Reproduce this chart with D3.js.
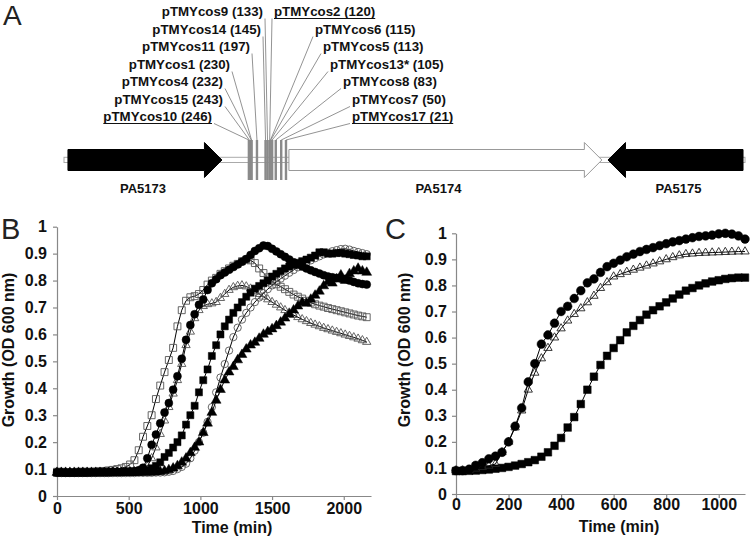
<!DOCTYPE html>
<html><head><meta charset="utf-8">
<script src="https://cdn.jsdelivr.net/npm/d3@7/dist/d3.min.js"></script>
<style>
html,body{margin:0;padding:0;background:#fff;}
svg{display:block;font-family:"Liberation Sans",Arial,Helvetica,sans-serif;}
</style></head><body>
<svg id="fig" width="750" height="537"></svg>
<script>
// ================= DATA =================
// Panel A: transposon insertions (distance upstream of PA5174, bp)
const leftNames = ["pTMYcos9","pTMYcos14","pTMYcos11","pTMYcos1","pTMYcos4","pTMYcos15","pTMYcos10"];
const leftPos = [133,145,197,230,232,243,246];
const leftUnderlined = [0,0,0,0,0,0,1];
const rightNames = ["pTMYcos2","pTMYcos6","pTMYcos5","pTMYcos13*","pTMYcos8","pTMYcos7","pTMYcos17"];
const rightPos = [120,115,113,105,83,50,21];
const rightUnderlined = [1,0,0,0,0,0,1];
// genes (bp, relative to PA5174 start; from = 5' end, to = arrow tip)
const geneNames = ["PA5173","PA5174","PA5175"];
const geneFrom = [-1336, 4, 2758];
const geneTo = [-402, 1902, 1939];
const mapExtent = [-1360, 2770];

// Panel B: growth curves, sampled every 30 min (0..2160)
const stepB = 30;
const bSquareOpen = [0.09,0.09,0.089,0.089,0.089,0.09,0.09,0.09,0.09,0.091,0.092,0.093,0.095,0.097,0.1,
  0.103,0.108,0.117,0.133,0.17,0.22,0.26,0.3,0.36,0.41,
  0.46,0.505,0.55,0.63,0.69,0.725,0.738,0.742,0.75,0.765,
  0.785,0.8,0.81,0.825,0.835,0.845,0.855,0.862,0.872,0.878,
  0.875,0.865,0.845,0.828,0.812,0.798,0.786,0.777,0.768,0.758,
  0.748,0.74,0.733,0.725,0.718,0.712,0.707,0.703,0.698,0.694,
  0.69,0.686,0.682,0.678,0.674,0.67,0.667,0.664];
const bCircleFilled = [0.088,0.088,0.087,0.087,0.087,0.088,0.088,0.088,0.088,0.088,0.089,0.089,0.089,0.09,0.09,0.09,0.091,0.091,
  0.092,0.096,0.105,0.14,0.19,0.228,0.27,0.31,0.345,0.395,
  0.445,0.51,0.58,0.635,0.675,0.71,0.73,0.765,0.79,0.805,
  0.82,0.83,0.84,0.85,0.86,0.87,0.88,0.895,0.91,0.92,
  0.93,0.928,0.918,0.908,0.898,0.888,0.878,0.868,0.86,0.852,
  0.845,0.838,0.832,0.826,0.82,0.815,0.812,0.81,0.808,0.806,
  0.8,0.795,0.79,0.787,0.785];
const bTriangleOpen = [0.088,0.088,0.088,0.087,0.087,0.087,0.088,0.088,0.088,0.088,0.088,0.089,0.089,0.089,0.09,0.09,0.09,0.091,0.092,0.093,
  0.095,0.11,0.14,0.18,0.23,0.28,0.33,0.38,0.43,0.49,
  0.56,0.61,0.66,0.69,0.705,0.712,0.715,0.72,0.735,0.75,
  0.765,0.775,0.78,0.782,0.778,0.77,0.76,0.75,0.74,0.73,
  0.72,0.71,0.70,0.69,0.681,0.672,0.664,0.656,0.649,0.642,
  0.636,0.63,0.624,0.619,0.614,0.609,0.604,0.599,0.594,0.589,
  0.584,0.578,0.572];
const bSquareFilled = [0.086,0.086,0.086,0.086,0.086,0.086,0.086,0.086,0.087,0.087,0.087,0.087,0.087,0.088,0.088,0.088,0.089,0.089,0.09,0.091,0.093,
  0.095,0.103,0.112,0.125,0.145,0.16,0.18,0.2,0.225,0.265,
  0.3,0.335,0.385,0.43,0.47,0.52,0.56,0.6,0.63,0.655,
  0.68,0.70,0.72,0.74,0.755,0.77,0.78,0.79,0.80,0.815,
  0.825,0.835,0.845,0.852,0.858,0.866,0.872,0.878,0.885,0.893,
  0.905,0.905,0.9,0.9,0.902,0.903,0.9,0.898,0.895,0.893,
  0.89,0.89];
const bCircleOpen = [0.085,0.085,0.085,0.085,0.085,0.085,0.085,0.085,0.085,0.085,0.085,0.085,0.085,0.085,0.085,0.085,0.085,0.085,0.085,0.086,0.086,0.086,0.086,0.087,0.087,
  0.088,0.09,0.093,0.1,0.108,0.12,0.14,0.168,0.2,0.235,
  0.275,0.33,0.385,0.44,0.49,0.54,0.59,0.625,0.655,0.68,
  0.70,0.72,0.737,0.753,0.768,0.782,0.795,0.807,0.818,0.829,
  0.839,0.849,0.858,0.867,0.875,0.883,0.89,0.897,0.903,0.909,
  0.913,0.917,0.918,0.915,0.91,0.906,0.902,0.898];
const bTriangleFilled = [0.087,0.087,0.087,0.087,0.087,0.087,0.087,0.087,0.087,0.087,0.087,0.087,0.087,0.087,0.087,0.087,0.087,0.087,0.087,0.087,0.088,0.088,0.088,0.089,
  0.09,0.093,0.097,0.103,0.112,0.125,0.14,0.16,0.18,0.2,
  0.235,0.27,0.31,0.355,0.395,0.43,0.46,0.48,0.505,0.525,
  0.545,0.56,0.57,0.585,0.6,0.61,0.62,0.632,0.645,0.66,
  0.675,0.69,0.705,0.718,0.715,0.73,0.745,0.76,0.78,0.795,
  0.79,0.805,0.82,0.8,0.825,0.835,0.845,0.835,0.83];

// Panel C: growth curves, sampled every 25 min (0..1100)
const stepC = 25;
const cCircleFilled = [0.09,0.09,0.095,0.11,0.12,0.135,0.145,0.16,0.2,0.26,
  0.33,0.43,0.5,0.575,0.61,0.655,0.70,0.72,0.75,0.78,
  0.81,0.825,0.85,0.872,0.885,0.897,0.91,0.92,0.93,0.938,
  0.945,0.953,0.96,0.967,0.972,0.978,0.983,0.988,0.99,0.993,
  0.998,1.0,0.997,0.99,0.978];
const cTriangleOpen = [0.09,0.09,0.092,0.097,0.103,0.108,0.115,0.16,0.2,0.255,
  0.32,0.4,0.465,0.52,0.56,0.6,0.635,0.665,0.69,0.712,
  0.735,0.76,0.79,0.812,0.834,0.843,0.852,0.86,0.868,0.876,
  0.884,0.892,0.9,0.908,0.915,0.92,0.922,0.924,0.925,0.926,
  0.927,0.928,0.929,0.93,0.93];
const cSquareFilled = [0.088,0.088,0.089,0.09,0.092,0.094,0.097,0.1,0.104,0.109,
  0.115,0.122,0.13,0.143,0.16,0.185,0.215,0.255,0.295,0.345,
  0.4,0.45,0.495,0.53,0.56,0.59,0.62,0.645,0.667,0.688,
  0.705,0.72,0.735,0.75,0.765,0.78,0.79,0.8,0.808,0.815,
  0.82,0.825,0.828,0.83,0.83];

// axis ticks
const yTicks = [0,0.1,0.2,0.3,0.4,0.5,0.6,0.7,0.8,0.9,1];
const xTicksB = [0,500,1000,1500,2000];
const xTicksC = [0,200,400,600,800,1000];
const xTitle = "Time (min)";
const yTitle = "Growth (OD 600 nm)";

// ================= DRAW =================
const svg = d3.select("#fig");
const FONT = '"Liberation Sans",Arial,Helvetica,sans-serif';

// ---------- Panel A ----------
const gA = svg.append("g");
gA.append("text").attr("x", 3).attr("y", 25).attr("font-size", 28).attr("fill", "#222").text("A");

const gx = d3.scaleLinear().domain(mapExtent).range([64, 745]);
const trackY = 160;
gA.append("rect").attr("x", gx(mapExtent[0])).attr("y", trackY - 2.7)
  .attr("width", gx(mapExtent[1]) - gx(mapExtent[0])).attr("height", 5.2)
  .attr("fill", "#fff").attr("stroke", "#aaa").attr("stroke-width", 1);

const bodyH = 10.5, headH = 17.5, headL = 17.5;
geneNames.forEach((name, i) => {
  const a = gx(geneFrom[i]), b = gx(geneTo[i]);
  const dir = b > a ? 1 : -1;
  const hb = b - dir * headL;
  const pts = [[a, trackY - bodyH], [hb, trackY - bodyH], [hb, trackY - headH], [b, trackY],
               [hb, trackY + headH], [hb, trackY + bodyH], [a, trackY + bodyH]];
  const isWhite = name === "PA5174";
  gA.append("polygon").attr("points", pts.map(p => p.join(",")).join(" "))
    .attr("fill", isWhite ? "#fff" : "#000")
    .attr("stroke", isWhite ? "#999" : "#000").attr("stroke-width", 1);
  gA.append("text").attr("x", (a + b) / 2 + (i === 0 ? -2 : (i === 2 ? 3 : -7))).attr("y", 193)
    .attr("text-anchor", "middle").attr("font-size", 13).attr("font-weight", "bold")
    .attr("fill", "#111").text(name);
});

const allPos = leftPos.concat(rightPos);
gA.selectAll("rect.ins").data(allPos).join("rect").attr("class", "ins")
  .attr("x", d => gx(-d)).attr("y", 140).attr("width", 2.4).attr("height", 40)
  .attr("fill", "#8a8a8a");

const leftLabelRight = [263, 261, 250, 230, 223, 223, 212];
const rightLabelLeft = [274, 315, 323, 330, 343, 352, 352];
const rowBase = [16, 34, 51, 69, 86, 104, 121];
function label(name, pos, ul, i, side) {
  const x = side === "L" ? leftLabelRight[i] : rightLabelLeft[i];
  const y = rowBase[i];
  const t = gA.append("text").attr("x", x).attr("y", y)
    .attr("text-anchor", side === "L" ? "end" : "start")
    .attr("font-size", 13.3).attr("font-weight", "bold").attr("fill", "#111")
    .text(`${name} (${pos})`);
  if (ul) {
    const bb = t.node().getBBox();
    gA.append("line").attr("x1", bb.x).attr("x2", bb.x + bb.width)
      .attr("y1", y + 2.5).attr("y2", y + 2.5).attr("stroke", "#111").attr("stroke-width", 1.2);
  }
  const sx = side === "L" ? x + 2 : x - 2;
  gA.append("line").attr("x1", sx).attr("y1", y + 2.5)
    .attr("x2", gx(-pos) + 1.2).attr("y2", 140)
    .attr("stroke", "#777").attr("stroke-width", 0.8);
}
leftNames.forEach((n, i) => label(n, leftPos[i], leftUnderlined[i], i, "L"));
rightNames.forEach((n, i) => label(n, rightPos[i], rightUnderlined[i], i, "R"));

// ---------- growth panels ----------
function growthPanel(cfg) {
  const g = svg.append("g");
  const x = d3.scaleLinear().domain([0, cfg.xmax]).range([cfg.left, cfg.right]);
  const y = d3.scaleLinear().domain([0, 1]).range([cfg.bottom, cfg.top]);
  g.append("text").attr("x", cfg.letterX).attr("y", cfg.letterY).attr("font-size", 29)
    .attr("fill", "#222").text(cfg.letter);

  const ax = g.append("g").attr("transform", `translate(0,${cfg.bottom})`)
    .call(d3.axisBottom(x).tickValues(cfg.xTicks).tickSize(4).tickPadding(cfg.xPad).tickSizeOuter(0).tickFormat(d3.format("d")));
  const ay = g.append("g").attr("transform", `translate(${cfg.left},0)`)
    .call(d3.axisLeft(y).tickValues(yTicks).tickSize(4).tickPadding(cfg.yPad).tickSizeOuter(0).tickFormat(d => d === 0 || d === 1 ? String(d) : d3.format(".1f")(d)));
  [ax, ay].forEach(a => {
    a.attr("font-family", FONT).attr("font-size", 16);
    a.select(".domain").attr("stroke", "#888").attr("stroke-width", 1.2);
    a.selectAll(".tick line").attr("stroke", "#888").attr("stroke-width", 1.2);
    a.selectAll(".tick text").attr("fill", "#111").attr("font-weight", "bold");
  });

  g.append("text").attr("x", cfg.xTitleX).attr("y", cfg.xTitleY).attr("text-anchor", "middle")
    .attr("font-size", 16).attr("font-weight", "bold").attr("fill", "#111").text(xTitle);
  g.append("text").attr("transform", `translate(${cfg.yTitleX},${cfg.yTitleY}) rotate(-90)`)
    .attr("text-anchor", "middle").attr("font-size", 16).attr("font-weight", "bold")
    .attr("fill", "#111").text(yTitle);

  const line = d3.line().x(d => x(d[0])).y(d => y(d[1]));
  cfg.series.forEach(s => {
    const pts = s.values.map((v, i) => [i * cfg.step, v]);
    g.append("path").datum(pts).attr("d", line).attr("fill", "none")
      .attr("stroke", "#000").attr("stroke-width", 1);
    const sym = d3.symbol().type(s.type).size(s.size);
    g.selectAll(null).data(pts).join("path")
      .attr("d", sym)
      .attr("transform", d => `translate(${x(d[0])},${y(d[1])})`)
      .attr("fill", s.filled ? "#000" : "none")
      .attr("stroke", s.filled ? "#000" : s.stroke)
      .attr("stroke-width", s.filled ? 0.5 : 0.9);
  });
}

growthPanel({
  letter: "B", letterX: 1, letterY: 239,
  left: 57, right: 371, top: 226.7, bottom: 496, xmax: 2190, step: stepB,
  xTicks: xTicksB, xPad: 3, yPad: 6,
  xTitleX: 232, xTitleY: 533, yTitleX: 14, yTitleY: 350,
  series: [
    {values: bSquareOpen, type: d3.symbolSquare, size: 48, filled: false, stroke: "#555"},
    {values: bTriangleOpen, type: d3.symbolTriangle, size: 30, filled: false, stroke: "#555"},
    {values: bCircleOpen, type: d3.symbolCircle, size: 42, filled: false, stroke: "#555"},
    {values: bTriangleFilled, type: d3.symbolTriangle, size: 42, filled: true},
    {values: bSquareFilled, type: d3.symbolSquare, size: 50, filled: true},
    {values: bCircleFilled, type: d3.symbolCircle, size: 50, filled: true}
  ]
});

growthPanel({
  letter: "C", letterX: 385, letterY: 239,
  left: 456, right: 745, top: 233.3, bottom: 494, xmax: 1100, step: stepC,
  xTicks: xTicksC, xPad: 1, yPad: 5,
  xTitleX: 619, xTitleY: 532, yTitleX: 410, yTitleY: 350,
  series: [
    {values: cSquareFilled, type: d3.symbolSquare, size: 58, filled: true},
    {values: cTriangleOpen, type: d3.symbolTriangle, size: 30, filled: false, stroke: "#222"},
    {values: cCircleFilled, type: d3.symbolCircle, size: 60, filled: true}
  ]
});
</script>
</body></html>
